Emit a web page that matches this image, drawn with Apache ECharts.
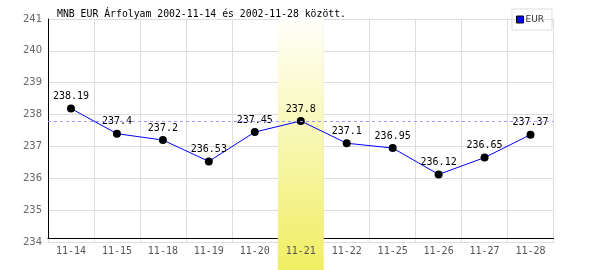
<!DOCTYPE html>
<html><head><meta charset="utf-8">
<script src="https://cdn.jsdelivr.net/npm/echarts@6/dist/echarts.min.js"></script>
<style>html,body{margin:0;padding:0;background:#fff}#c{width:600px;height:270px}</style>
</head><body><div id="c"></div>
<script>
const categories = ['11-14','11-15','11-18','11-19','11-20','11-21','11-22','11-25','11-26','11-27','11-28'];
const eurValues = [238.19, 237.4, 237.2, 236.53, 237.45, 237.8, 237.1, 236.95, 236.12, 236.65, 237.37];
const highlightIndex = 5;
const yMin = 234, yMax = 241, yStep = 1;
const titleText = 'MNB EUR Árfolyam 2002-11-14 és 2002-11-28 között.';
const seriesName = 'EUR';

const mono = '"DejaVu Sans Mono", monospace';
const chart = echarts.init(document.getElementById('c'), null, {renderer: 'canvas'});
const L = 48, R = 46.5, T = 19;
chart.setOption({
  animation: false,
  title: {text: titleText, left: 52, top: 4, textStyle: {fontFamily: mono, fontSize: 9.8, fontWeight: 'normal', color: '#000'}},
  legend: {
    right: 48, top: 9, orient: 'vertical', borderColor: '#dddddd', borderWidth: 1, padding: [6, 8, 6, 4],
    itemWidth: 7, itemHeight: 7, itemGap: 4,
    textStyle: {fontFamily: 'DejaVu Sans', fontSize: 9, color: '#333', padding: [0, 0, 0, -3]},
    data: [{name: seriesName, icon: 'rect', itemStyle: {color: '#0000ff', borderColor: '#000', borderWidth: 1}}]
  },
  grid: [
    {left: L, right: R, top: T, bottom: 28},
    {left: L, right: R, top: T, bottom: 32},
    {left: L, right: R, top: T, bottom: 0}
  ],
  xAxis: [
    {type: 'category', gridIndex: 0, position: 'bottom', data: categories, boundaryGap: true, z: 0,
     axisLine: {lineStyle: {color: '#dddddd'}}, axisTick: {show: false}, axisLabel: {show: false},
     splitLine: {show: true, interval: 0, lineStyle: {color: '#dddddd'}}},
    {type: 'category', gridIndex: 1, position: 'bottom', data: categories, z: 0,
     axisLine: {lineStyle: {color: '#000', width: 1}}, axisTick: {show: false}, axisLabel: {show: false}, splitLine: {show: false}},
    {type: 'category', gridIndex: 2, data: categories, show: false},
    {type: 'category', gridIndex: 0, position: 'bottom', data: categories, z: 6,
     axisLine: {show: false}, axisTick: {show: false}, splitLine: {show: false},
     axisLabel: {interval: 0, margin: 4, fontFamily: mono, fontSize: 10, color: '#555'}}
  ],
  yAxis: [
    {type: 'value', gridIndex: 0, min: yMin, max: yMax, interval: yStep, z: 0,
     axisLine: {show: false}, axisTick: {show: false},
     axisLabel: {margin: 6, fontFamily: 'DejaVu Sans', fontSize: 10, color: '#666'},
     splitLine: {lineStyle: {color: '#dddddd'}}},
    {type: 'value', gridIndex: 1, min: 0, max: 1, z: 0,
     axisLine: {show: true, lineStyle: {color: '#000', width: 1}}, axisTick: {show: false}, axisLabel: {show: false}, splitLine: {show: false}},
    {type: 'value', gridIndex: 2, min: 0, max: 1, show: false}
  ],
  series: [
    {type: 'bar', xAxisIndex: 2, yAxisIndex: 2, z: 1, barWidth: '100%', silent: true,
     data: categories.map((c, i) => i === highlightIndex ? 1 : '-'),
     itemStyle: {color: new echarts.graphic.LinearGradient(0, 0, 0, 1, [
       {offset: 0, color: '#fffffa'}, {offset: 1, color: '#f0ee62'}])}},
    {name: seriesName, type: 'line', xAxisIndex: 0, yAxisIndex: 0, z: 4, data: eurValues,
     symbol: 'circle', symbolSize: 8,
     itemStyle: {color: '#000'}, lineStyle: {color: '#0000ff', width: 1},
     label: {show: true, position: 'top', distance: 3, fontFamily: mono, fontSize: 10, color: '#000'},
     markLine: {silent: true, symbol: 'none', label: {show: false},
       lineStyle: {color: '#9999ff', type: [3, 3], width: 1},
       data: [{yAxis: eurValues[highlightIndex]}]}}
  ]
});
</script></body></html>
